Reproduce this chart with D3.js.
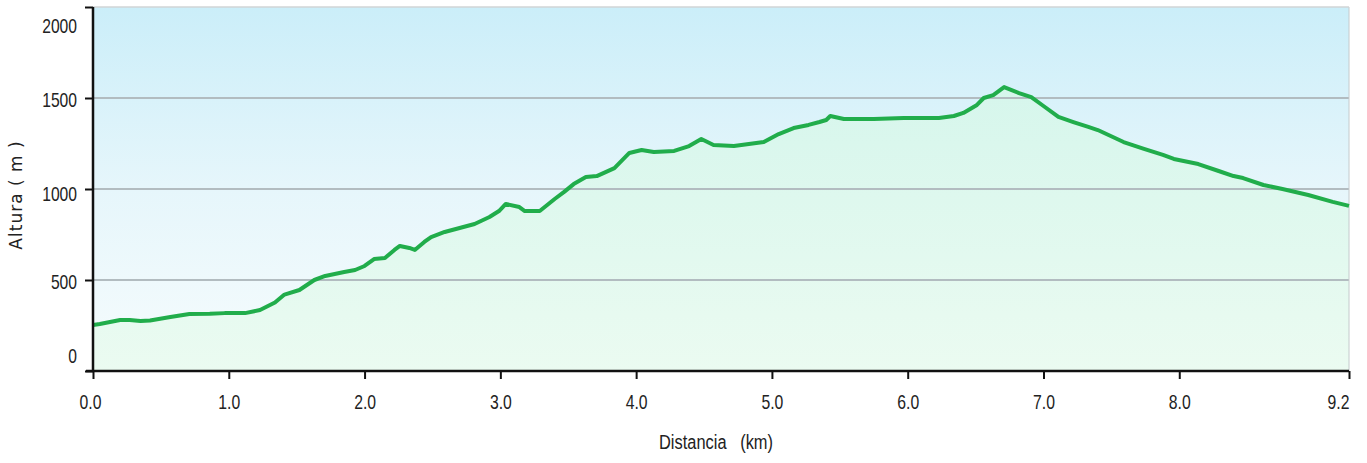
<!DOCTYPE html>
<html><head><meta charset="utf-8">
<script src="https://cdn.jsdelivr.net/npm/d3@7"></script>
<style>body{margin:0;background:#fff}svg{display:block}</style>
</head><body>
<script>
const distances = [0.00,0.05,0.20,0.27,0.35,0.42,0.57,0.71,0.86,0.97,1.12,1.23,1.34,1.41,1.52,1.63,1.71,1.78,1.85,1.93,2.00,2.07,2.15,2.22,2.26,2.33,2.37,2.44,2.49,2.59,2.70,2.81,2.92,2.99,3.04,3.14,3.18,3.29,3.40,3.47,3.54,3.63,3.71,3.84,3.95,4.04,4.13,4.28,4.39,4.48,4.57,4.72,4.83,4.94,5.05,5.16,5.27,5.35,5.40,5.43,5.53,5.75,5.97,6.23,6.34,6.41,6.51,6.56,6.63,6.71,6.82,6.91,7.00,7.11,7.22,7.33,7.40,7.59,7.74,7.88,7.96,8.14,8.29,8.40,8.47,8.62,8.76,8.95,9.13,9.25];
const elevations = [253,258,280,280,275,278,297,313,314,318,318,335,376,420,445,500,522,533,544,555,577,615,621,665,687,676,665,709,736,764,786,808,846,879,918,901,879,879,945,984,1027,1066,1071,1115,1198,1214,1203,1209,1236,1275,1242,1236,1247,1258,1302,1335,1352,1368,1379,1401,1385,1385,1390,1390,1401,1418,1462,1500,1516,1560,1527,1505,1456,1396,1368,1341,1324,1258,1220,1187,1165,1137,1099,1071,1060,1022,1000,967,929,907];
const xTicks = [0,1,2,3,4,5,6,7,8,9.25];
const xTickLabels = ["0.0","1.0","2.0","3.0","4.0","5.0","6.0","7.0","8.0","9.2"];
const yTicks = [0,500,1000,1500,2000];
const yTickLabels = ["0","500","1000","1500","2000"];

const W = 1367, H = 463;
const FONT = "'Liberation Sans','Noto Sans',sans-serif";
const svg = d3.select("body").append("svg").attr("width", W).attr("height", H);
const x = d3.scaleLinear().domain([0, 9.25]).range([93, 1349]);
const y = d3.scaleLinear().domain([0, 2000]).range([371, 7]);
const defs = svg.append("defs");
const bg = defs.append("linearGradient").attr("id","bg").attr("x1",0).attr("y1",0).attr("x2",0).attr("y2",1);
bg.append("stop").attr("offset","0%").attr("stop-color","#cbeef9");
bg.append("stop").attr("offset","50%").attr("stop-color","#e6f6fb");
bg.append("stop").attr("offset","100%").attr("stop-color","#f6fcfd");
const ag = defs.append("linearGradient").attr("id","ag").attr("x1",0).attr("y1",0).attr("x2",0).attr("y2",1)
  .attr("gradientUnits","userSpaceOnUse").attr("y1", y(1560)).attr("y2", y(0));
ag.append("stop").attr("offset","0%").attr("stop-color","#d6f6ec");
ag.append("stop").attr("offset","100%").attr("stop-color","#ebfbf1");

svg.append("rect").attr("x", x(0)).attr("y", y(2000)).attr("width", x(9.25)-x(0)).attr("height", y(0)-y(2000)).attr("fill","url(#bg)");

const data = distances.map((d,i)=>({d, e: elevations[i]}));
const area = d3.area().x(p=>x(p.d)).y0(y(0)).y1(p=>y(p.e));
svg.append("path").datum(data).attr("d", area).attr("fill","url(#ag)");

// gridlines
svg.append("g").selectAll("line").data([500,1000,1500]).join("line")
  .attr("x1", x(0)).attr("x2", x(9.25)).attr("y1", d=>y(d)).attr("y2", d=>y(d))
  .attr("stroke","#b2bcc0").attr("stroke-width",2);
// borders
svg.append("line").attr("x1", x(9.25)).attr("x2", x(9.25)).attr("y1", y(2000)).attr("y2", y(0)).attr("stroke","#c4cacc").attr("stroke-width",1);
svg.append("line").attr("x1", x(0)).attr("x2", x(9.25)).attr("y1", y(2000)).attr("y2", y(2000)).attr("stroke","#d0d4d6").attr("stroke-width",1.5);

const line = d3.line().x(p=>x(p.d)).y(p=>y(p.e));
svg.append("path").datum(data).attr("d", line).attr("fill","none").attr("stroke","#21ad4b").attr("stroke-width",4).attr("stroke-linejoin","round");

const cw = s => s.split("").reduce((a,c)=> a + (c==="." ? 4.5 : 8.7), 0);

// axes
const xa = svg.append("g").attr("transform",`translate(0,${y(0)})`)
  .call(d3.axisBottom(x).tickValues(xTicks).tickFormat((d,i)=>xTickLabels[i]).tickSize(8).tickSizeOuter(0));
xa.select(".domain").remove();
xa.selectAll(".tick line").attr("stroke","#111").attr("stroke-width",2);
xa.selectAll(".tick text").attr("y",23).attr("dy","0.71em")
  .attr("text-anchor",(d,i)=> i===xTicks.length-1 ? "end" : "middle")
  .attr("x",(d,i)=> i===0 ? -3 : 0)
  .style("font-family",FONT).style("font-size","21px").attr("fill","#222")
  .attr("textLength",(d,i)=>cw(xTickLabels[i])).attr("lengthAdjust","spacingAndGlyphs");
svg.append("line").attr("x1", 86).attr("x2", x(9.25)).attr("y1", y(0)).attr("y2", y(0)).attr("stroke","#111").attr("stroke-width",2.5);

const ya = svg.append("g").attr("transform",`translate(${x(0)},0)`)
  .call(d3.axisLeft(y).tickValues(yTicks).tickFormat((d,i)=>yTickLabels[i]).tickSize(8).tickSizeOuter(0));
ya.select(".domain").remove();
ya.selectAll(".tick line").attr("stroke","#111").attr("stroke-width",2);
ya.selectAll(".tick text").attr("x",-16)
  .attr("dy", d => d===0 ? "-0.4em" : (d===2000 ? "1.2em" : (d===1000 ? "0.55em" : "0.4em")))
  .style("font-family",FONT).style("font-size","21px").attr("fill","#222")
  .attr("textLength",(d,i)=>cw(yTickLabels[i])).attr("lengthAdjust","spacingAndGlyphs");
svg.append("line").attr("x1", x(0)).attr("x2", x(0)).attr("y1", y(2000)).attr("y2", y(0)+1).attr("stroke","#111").attr("stroke-width",2.5);

svg.append("text").attr("transform","translate(22,195) rotate(-90)").attr("text-anchor","middle")
  .style("font-family","'DejaVu Sans',Verdana,sans-serif").style("font-size","17px").style("letter-spacing","1px").attr("fill","#222")
  .attr("xml:space","preserve").text("Altura ( m )");
svg.append("text").attr("x",716).attr("y",449).attr("text-anchor","middle")
  .style("font-family",FONT).style("font-size","20px").attr("fill","#222")
  .attr("textLength",114).attr("lengthAdjust","spacingAndGlyphs")
  .attr("xml:space","preserve").text("Distancia   (km)");
</script>
</body></html>
